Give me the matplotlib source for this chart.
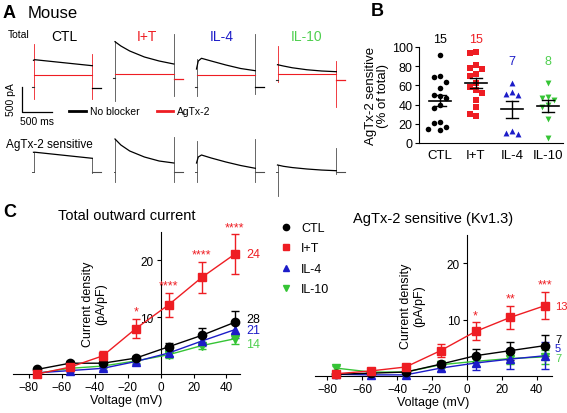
import numpy as np
import matplotlib
matplotlib.use("Agg")
import matplotlib.pyplot as plt

plt.rcParams["font.family"] = ["Liberation Sans", "DejaVu Sans"]

RED = "#ee1d23"
BLUE = "#1c1cc8"
GREEN = "#35c435"
GREEN_TXT = "#4fcf4f"

# ---------------- data ----------------
conditions = ["CTL", "I+T", "IL-4", "IL-10"]
cond_colors = ["black", RED, BLUE, GREEN]
label_colors = ["black", RED, BLUE, GREEN_TXT]

# A: current traces (ms after step onset, pA above holding level)
ctl_t = [0, 20, 1000]
ctl_total = [540, 552, 432]
ctl_sens = [388, 390, 268]
it_t = [0, 100, 250, 500, 750, 1000]
it_total = [732, 646, 546, 426, 346, 286]
it_sens = [666, 546, 426, 306, 226, 186]
il4_t = [0, 30, 85, 250, 500, 750, 1000]
il4_total = [360, 520, 574, 520, 440, 370, 326]
il4_sens = [174, 294, 334, 274, 194, 124, 68]
il10_t = [0, 100, 250, 500, 750, 1000]
il10_total = [306, 280, 245, 205, 180, 166]
il10_sens = [146, 120, 95, 66, 45, 32]
agtx_level = [252, 86, 246, 120]
# capacitive transients at step on / off (pA), tail currents
total_on = [(860, -230), (746, -448), (560, -174), (686, -46)]
total_off = [(670, -230), (886, -354), (1060, -140), (386, -546)]
sens_on = [(388, 0), (666, -200), (620, -200), (146, -468)]
sens_off = [(268, -32), (706, -188), (654, -200), (480, -30)]
total_tail = [-14, -14, -6, 0]
sens_tail = [-12, 0, 0, 0]

# B: AgTx-2 sensitive fraction (% of total), one value per cell
ctl_pct = [92, 70, 69, 64, 57, 50, 49, 47, 40, 36, 22, 21, 17, 15, 14]
it_pct = [95, 94, 81, 78, 77, 72, 70, 63, 58, 55, 52, 45, 37, 30, 28]
il4_pct = [62, 53, 51, 50, 12, 10, 9]
il10_pct = [62, 48, 47, 45, 40, 38, 25, 5]

# C: I-V curves, mean and SEM (pA/pF)
voltages = [-75, -55, -35, -15, 5, 25, 45]
tot_ctl = [0.8, 1.9, 1.9, 2.8, 4.8, 6.8, 9.1]
tot_ctl_err = [0.3, 0.4, 0.4, 0.4, 0.7, 1.3, 2.0]
tot_it = [0.0, 1.2, 3.2, 8.0, 12.2, 17.0, 21.1]
tot_it_err = [0.2, 0.4, 0.8, 1.7, 2.1, 2.8, 3.5]
tot_il4 = [0.2, 0.6, 1.0, 2.2, 3.7, 5.8, 7.8]
tot_il4_err = [0.2, 0.3, 0.3, 0.4, 0.5, 0.8, 1.5]
tot_il10 = [0.1, 1.0, 1.4, 2.3, 3.4, 5.0, 6.2]
tot_il10_err = [0.2, 0.3, 0.3, 0.4, 0.5, 0.6, 0.9]
tot_stars = ["", "", "", "*", "****", "****", "****"]
tot_n = [28, 24, 21, 14]

sens_ctl = [0.3, 0.5, 0.7, 2.1, 3.6, 4.5, 5.4]
sens_ctl_err = [0.3, 0.3, 0.3, 0.5, 1.1, 1.6, 1.9]
sens_it = [0.4, 0.9, 1.6, 4.5, 7.9, 10.4, 12.5]
sens_it_err = [0.3, 0.3, 0.4, 1.2, 1.6, 2.1, 2.4]
sens_il4 = [0.3, 0.2, 0.2, 1.4, 2.3, 3.0, 3.6]
sens_il4_err = [0.2, 0.2, 0.2, 0.6, 1.2, 1.7, 2.4]
sens_il10 = [1.4, 0.7, 0.7, 2.0, 2.6, 3.1, 3.4]
sens_il10_err = [0.3, 0.3, 0.3, 0.5, 0.8, 1.0, 1.2]
sens_stars = ["", "", "", "", "*", "**", "***"]
sens_n = [7, 13, 5, 7]

MS_PER_PX = 17.0
PA_PER_PX = 20.0


def draw_trace(ax, x0, base, t, cur, color, lw=0.9):
    x = x0 + np.asarray(t, float) / MS_PER_PX
    y = base - np.asarray(cur, float) / PA_PER_PX
    ax.plot(x, y, color=color, lw=lw, solid_joinstyle="round")


def draw_vline(ax, x, base, hi, lo, color):
    ax.plot([x, x], [base - hi / PA_PER_PX, base - lo / PA_PER_PX], color=color, lw=0.6)


def swarm(vals, w=0.17, dy=7.0):
    placed = []
    for v in vals:
        for off in [0, -w, w, -2 * w, 2 * w, -3 * w, 3 * w]:
            if all(abs(off - po) > w * 0.9 or abs(v - pv) > dy for po, pv in placed):
                break
        placed.append((off, v))
    return [p[0] for p in placed]


fig = plt.figure(figsize=(5.67, 4.14), dpi=100)

# ---------------- panel A (pixel canvas) ----------------
ax0 = fig.add_axes([0, 0, 1, 1])
ax0.set_xlim(0, 567)
ax0.set_ylim(414, 0)
ax0.axis("off")

ax0.text(3, 14, "A", fontsize=13, fontweight="bold", va="center")
ax0.text(28, 14, "Mouse", fontsize=12, va="center")
ax0.text(8, 35, "Total", fontsize=7.5, va="center")
col_x = [33.5, 115, 196.5, 277.5]
label_x = [64, 147, 222, 307]
for name, lx, c in zip(conditions, label_x, label_colors):
    ax0.text(lx, 37, name, fontsize=10, color=c, ha="center", va="center")

tot_base = [88.3, 79.3, 88.0, 81.0]
sens_base = [172.7, 173.3, 172.7, 173.3]
times = [ctl_t, it_t, il4_t, il10_t]
totals = [ctl_total, it_total, il4_total, il10_total]
senses = [ctl_sens, it_sens, il4_sens, il10_sens]
spike_col = [RED, "0.3", "0.3", RED]
tail_col = ["black", RED, "black", RED]
step_px = 1000 / MS_PER_PX

for i in range(4):
    x0, b = col_x[i], tot_base[i]
    x1 = x0 + step_px
    draw_vline(ax0, x0, b, *total_on[i], spike_col[i])
    draw_vline(ax0, x1, b, *total_off[i], spike_col[i])
    ax0.plot([x0 - 2, x0], [b, b], color="0.2", lw=0.8)
    draw_trace(ax0, x0, b, [0, 1000], [agtx_level[i]] * 2, RED, lw=0.8)
    draw_trace(ax0, x0, b, times[i], totals[i], "black")
    ax0.plot([x1, x1 + 9], [b - total_tail[i] / PA_PER_PX] * 2, color=tail_col[i], lw=0.9)

    b = sens_base[i]
    draw_vline(ax0, x0, b, *sens_on[i], "0.3")
    draw_vline(ax0, x1, b, *sens_off[i], "0.3")
    ax0.plot([x0 - 1.5, x0], [b, b], color="0.3", lw=0.7)
    draw_trace(ax0, x0, b, times[i], senses[i], "black")
    ax0.plot([x1, x1 + 9], [b - sens_tail[i] / PA_PER_PX] * 2, color="0.3", lw=0.8)

# scale bar and legend
ax0.plot([21.7, 21.7, 51.7], [88, 112.5, 112.5], color="black", lw=0.9)
ax0.text(11, 100, "500 pA", fontsize=7.5, rotation=90, ha="center", va="center")
ax0.text(36.7, 122, "500 ms", fontsize=7.5, ha="center", va="center")
ax0.plot([69, 86], [112.3, 112.3], color="black", lw=2)
ax0.text(89.5, 112.3, "No blocker", fontsize=7.5, va="center")
ax0.plot([157, 173], [112.3, 112.3], color=RED, lw=2)
ax0.text(176.5, 112.3, "AgTx-2", fontsize=7.5, va="center")
ax0.text(6, 145, "AgTx-2 sensitive", fontsize=8.5, va="center")

ax0.text(371, 12, "B", fontsize=13, fontweight="bold", va="center")
ax0.text(3, 213, "C", fontsize=13, fontweight="bold", va="center")

# ---------------- panel B ----------------
axb = fig.add_axes([419 / 567, 1 - 144 / 414, 144 / 567, 96 / 414])
pct_sets = [ctl_pct, it_pct, il4_pct, il10_pct]
markers = ["o", "s", "^", "v"]
sizes = [16, 20, 18, 18]
label_y = [108, 108, 85, 85]
for k, vals in enumerate(pct_sets):
    offs = swarm(vals)
    axb.scatter(np.array(offs) + k, vals, s=sizes[k], marker=markers[k],
                color=cond_colors[k], linewidths=0, zorder=3, clip_on=False)
    m = np.mean(vals)
    sem = np.std(vals, ddof=1) / np.sqrt(len(vals))
    axb.plot([k - 0.3, k + 0.3], [m, m], color="black", lw=1.2, zorder=4)
    axb.plot([k, k], [m - sem, m + sem], color="black", lw=1.0, zorder=4)
    for yy in (m - sem, m + sem):
        axb.plot([k - 0.16, k + 0.16], [yy, yy], color="black", lw=1.0, zorder=4)
    axb.text(k, label_y[k], str(len(vals)), color=label_colors[k], fontsize=9,
             ha="center", va="center", clip_on=False)
axb.set_xlim(-0.58, 3.42)
axb.set_ylim(0, 100)
axb.set_yticks([0, 20, 40, 60, 80, 100])
axb.set_xticks(range(4))
axb.set_xticklabels(conditions, fontsize=9.5)
axb.tick_params(axis="y", labelsize=9, length=3, pad=1.5)
axb.tick_params(axis="x", length=0, pad=4)
axb.spines["top"].set_visible(False)
axb.spines["right"].set_visible(False)
axb.set_ylabel("AgTx-2 sensitive\n(% of total)", fontsize=9.5, labelpad=2, linespacing=1.0)
axb.patch.set_alpha(0)


# ---------------- panel C ----------------
def iv_axes(rect, xlim, series, errs, stars, ns, n_x, n_y, n_size, ylab_x, title):
    ax = fig.add_axes(rect)
    ax.patch.set_alpha(0)
    order = [3, 2, 0, 1]
    for k in order:
        ax.errorbar(voltages, series[k], yerr=errs[k], color=cond_colors[k],
                    marker=markers[k], markersize=6 if k < 2 else 5.5, lw=1.0,
                    elinewidth=1.0, capsize=3, capthick=1.0, zorder=3 + (k == 1),
                    clip_on=False)
    it_mean, it_err = series[1], errs[1]
    for v, s, m, e in zip(voltages, stars, it_mean, it_err):
        if s:
            ax.text(v, m + e + 0.2, s, color=RED, fontsize=9, ha="center",
                    va="bottom", clip_on=False)
    for k in range(4):
        ax.text(n_x, n_y[k], str(ns[k]), color=label_colors[k], fontsize=n_size,
                ha="left", va="center", clip_on=False)
    ax.set_xlim(*xlim)
    ax.set_ylim(0, 25)
    ax.spines["left"].set_position(("data", 0))
    ax.spines["top"].set_visible(False)
    ax.spines["right"].set_visible(False)
    ax.set_xticks([-80, -60, -40, -20, 0, 20, 40])
    ax.set_yticks([10, 20])
    ax.tick_params(labelsize=8.5, length=3, pad=2)
    ax.set_xlabel("Voltage (mV)", fontsize=9, labelpad=1)
    ax.text(ylab_x, 12.5, "Current density\n(pA/pF)", rotation=90, fontsize=9,
            ha="center", va="center", linespacing=1.1)
    ax.set_title(title, fontsize=10.5, pad=9)
    return ax


axl = iv_axes([13 / 567, 1 - 375 / 414, 227 / 567, 142 / 414], (-89.5, 48.2),
              [tot_ctl, tot_it, tot_il4, tot_il10],
              [tot_ctl_err, tot_it_err, tot_il4_err, tot_il10_err],
              tot_stars, tot_n, 52, [9.6, 21.1, 7.7, 5.3], 9, -40,
              "Total outward current")
axr = iv_axes([315 / 567, 1 - 377 / 414, 237 / 567, 141 / 414], (-87, 48.8),
              [sens_ctl, sens_it, sens_il4, sens_il10],
              [sens_ctl_err, sens_it_err, sens_il4_err, sens_il10_err],
              sens_stars, sens_n, 50.5, [6.6, 12.5, 4.9, 3.2], 8, -31,
              "AgTx-2 sensitive (Kv1.3)")

handles = [plt.Line2D([], [], ls="none", marker=markers[k], color=cond_colors[k],
                      markersize=4.5) for k in range(4)]
fig.legend(handles, conditions, loc="upper left", bbox_to_anchor=(281 / 567, 1 - 223 / 414),
           frameon=False, fontsize=9, handlelength=0.8, handletextpad=0.8,
           labelspacing=0.68, borderaxespad=0, borderpad=0)

fig.savefig("out.png", dpi=100)
